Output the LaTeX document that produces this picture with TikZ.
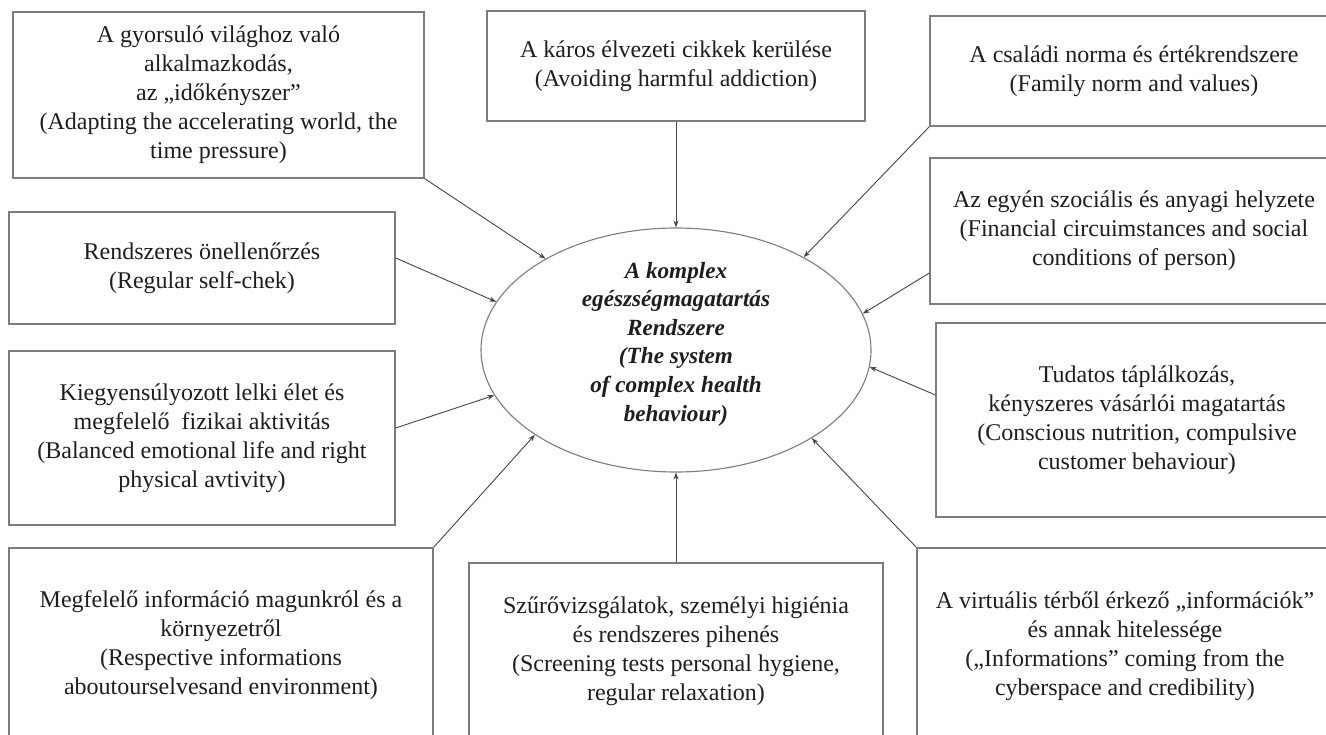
\documentclass[tikz,border=0pt]{standalone}
\usepackage{fontspec}
\setmainfont{Liberation Serif}
\usetikzlibrary{shapes.geometric,arrows.meta}
\definecolor{boxline}{RGB}{125,125,125}
\definecolor{arrline}{RGB}{70,70,70}
\definecolor{txt}{RGB}{30,30,30}
\begin{document}
\begin{tikzpicture}[x=1pt,y=-1pt,
  box/.style={draw=boxline,line width=1.3pt,rectangle,align=center,inner sep=0pt,text=txt,font=\fontsize{24}{29}\selectfont},
  arr/.style={draw=arrline,line width=0.9pt,-{Stealth[length=7pt,width=5pt]}},
  hub/.style={draw=boxline,line width=1.1pt,ellipse,inner sep=0pt,minimum width=390pt,minimum height=244pt},
  hubtext/.style={align=center,text=txt,font=\fontsize{23.2}{28.6}\selectfont\bfseries\itshape}]
\useasboundingbox (0,0) rectangle (1326,735);
\fill[white] (0,0) rectangle (1326,735);

\node[box,minimum width=411pt,minimum height=166pt] (b1) at (218.5,95)
  {A gyorsuló világhoz való\\alkalmazkodás,\\az „időkényszer”\\(Adapting the accelerating world, the\\time pressure)};
\node[box,minimum width=378pt,minimum height=110pt] (b2) at (676,66)
  {A káros élvezeti cikkek kerülése\\(Avoiding harmful addiction)};
\node[box,minimum width=408pt,minimum height=110pt] (b3) at (1134,71)
  {A családi norma és értékrendszere\\(Family norm and values)};
\node[box,minimum width=408pt,minimum height=146pt] (b4) at (1134,231)
  {Az egyén szociális és anyagi helyzete\\(Financial circuimstances and social\\conditions of person)};
\node[box,minimum width=402pt,minimum height=194pt] (b5) at (1137,420)
  {Tudatos táplálkozás,\\kényszeres vásárlói magatartás\\(Conscious nutrition, compulsive\\customer behaviour)};
\node[box,minimum width=386pt,minimum height=112pt] (b6) at (202,268)
  {Rendszeres önellenőrzés\\(Regular self-chek)};
\node[box,minimum width=386pt,minimum height=174pt] (b7) at (202,438)
  {Kiegyensúlyozott lelki élet és\\megfelelő\ \ fizikai aktivitás\\(Balanced emotional life and right\\physical avtivity)};
\node[box,minimum width=424pt,minimum height=194pt] (b8) at (221,645)
  {Megfelelő információ magunkról és a\\környezetről\\(Respective informations\\aboutourselvesand environment)};
\node[box,minimum width=414pt,minimum height=176pt] (b9) at (676,651)
  {Szűrővizsgálatok, személyi higiénia\\és rendszeres pihenés\\(Screening tests personal hygiene,\\regular relaxation)};
\node[box,minimum width=416pt,minimum height=196pt] (b10) at (1125,646)
  {A virtuális térből érkező „információk”\\és annak hitelessége\\(„Informations” coming from the\\cyberspace and credibility)};

\node[hub] (ell) at (676,350) {};
\node[hubtext] (ct) at (676,344)
  {A komplex\\egészségmagatartás\\Rendszere\\(The system\\of complex health\\behaviour)};

\draw[arr] (b1.south east) -- (ell.145);
\draw[arr] ([yshift=10pt]b6.east) -- (ell.165);
\draw[arr] ([yshift=10pt]b7.east) -- (ell.194);
\draw[arr] (b8.north east) -- (ell.211);
\draw[arr] (b9.north) -- (ell.270);
\draw[arr] (b10.north west) -- (ell.327.5);
\draw[arr] ([yshift=25pt]b5.west) -- (ell.355);
\draw[arr] ([yshift=-42pt]b4.west) -- (ell.11);
\draw[arr] (b3.south west) -- (ell.36);
\draw[arr] (b2.south) -- (ell.90);
\end{tikzpicture}
\end{document}
